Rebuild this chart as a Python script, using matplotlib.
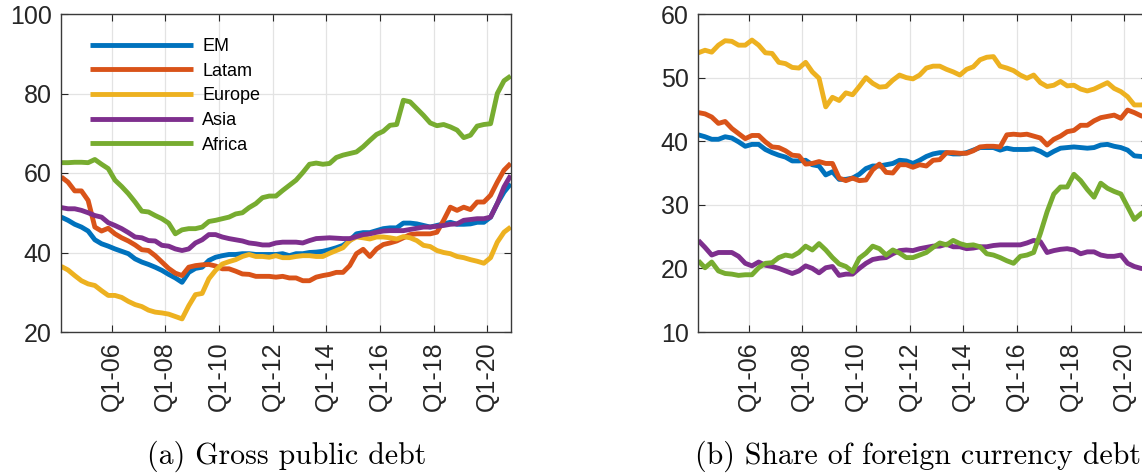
import numpy as np
import matplotlib
matplotlib.use("Agg")
import matplotlib.pyplot as plt

# quarterly observations, 2004Q2 .. 2021Q1 (68 points)
n_obs = 68
quarters = 2004.125 + 0.25 * np.arange(n_obs)

tick_years = [2006, 2008, 2010, 2012, 2014, 2016, 2018, 2020]
tick_labels = ["Q1-06", "Q1-08", "Q1-10", "Q1-12", "Q1-14", "Q1-16", "Q1-18", "Q1-20"]

regions = ["EM", "Latam", "Europe", "Asia", "Africa"]
colors = ["#0072BD", "#D95319", "#EDB120", "#7E2F8E", "#77AC30"]

# (a) gross public debt, % of GDP
em_debt = [48.9, 48.1, 47.1, 46.4, 45.4, 43.2, 42.2, 41.6, 40.9, 40.3,
           39.7, 38.4, 37.6, 37.0, 36.3, 35.5, 34.5, 33.6, 32.5, 35.0,
           36.0, 36.3, 38.0, 38.8, 39.2, 39.5, 39.5, 39.7, 39.7, 39.5,
           39.5, 39.5, 39.5, 39.7, 39.2, 39.7, 39.7, 40.0, 40.1, 40.3,
           40.7, 41.2, 41.8, 43.0, 44.7, 45.0, 45.0, 45.5, 46.0, 46.2,
           46.2, 47.4, 47.4, 47.2, 46.8, 46.4, 46.8, 47.2, 47.6, 47.1,
           47.1, 47.2, 47.6, 47.6, 48.9, 52.3, 55.2, 57.3]
latam_debt = [59.0, 57.7, 55.5, 55.5, 53.1, 46.4, 45.4, 46.1, 44.7, 43.7,
              42.9, 41.9, 40.7, 40.5, 39.2, 37.6, 36.0, 34.8, 34.2, 36.3,
              36.7, 36.9, 37.0, 36.6, 35.9, 35.9, 35.3, 34.6, 34.5, 34.0,
              34.0, 34.0, 33.8, 34.0, 33.6, 33.6, 32.9, 32.9, 33.8, 34.2,
              34.5, 35.0, 35.0, 36.7, 39.7, 40.8, 39.0, 40.9, 42.0, 42.4,
              42.9, 43.7, 44.5, 44.7, 44.7, 44.7, 45.1, 48.1, 51.4, 50.6,
              51.4, 50.8, 52.7, 52.7, 54.4, 57.7, 60.7, 62.4]
europe_debt = [36.5, 35.6, 34.2, 32.9, 32.1, 31.7, 30.4, 29.2, 29.2, 28.7,
               27.7, 26.9, 26.4, 25.5, 25.0, 24.8, 24.5, 23.9, 23.3, 26.6,
               29.4, 29.7, 33.4, 35.5, 37.1, 37.7, 38.2, 39.0, 39.5, 39.0,
               39.0, 38.8, 39.2, 38.7, 38.7, 39.0, 39.2, 39.2, 39.0, 39.0,
               39.8, 40.5, 41.2, 43.0, 43.9, 43.7, 43.4, 43.9, 43.9, 43.7,
               43.4, 44.0, 43.7, 43.0, 41.8, 41.5, 40.5, 40.0, 39.7, 39.0,
               38.7, 38.2, 37.8, 37.3, 38.7, 42.6, 45.1, 46.4]
asia_debt = [51.3, 51.0, 51.0, 50.6, 50.0, 49.3, 48.9, 47.5, 46.8, 46.0,
             45.0, 43.9, 43.7, 43.0, 42.9, 41.8, 41.6, 40.9, 40.5, 40.9,
             42.4, 43.2, 44.5, 44.5, 43.9, 43.5, 43.2, 42.9, 42.4, 42.2,
             41.9, 41.9, 42.4, 42.6, 42.6, 42.6, 42.4, 43.0, 43.5, 43.6,
             43.7, 43.6, 43.5, 43.5, 44.0, 44.5, 44.7, 45.1, 45.4, 45.5,
             45.5, 45.5, 45.8, 46.1, 46.4, 46.4, 46.6, 46.8, 47.1, 47.2,
             48.1, 48.3, 48.5, 48.5, 48.9, 52.3, 56.5, 59.4]
africa_debt = [62.6, 62.6, 62.7, 62.7, 62.6, 63.4, 62.2, 61.1, 58.2, 56.6,
               54.8, 52.7, 50.4, 50.2, 49.3, 48.5, 47.4, 44.7, 45.7, 46.0,
               46.0, 46.4, 47.8, 48.1, 48.5, 48.9, 49.7, 50.0, 51.3, 52.3,
               53.8, 54.2, 54.2, 55.6, 56.9, 58.2, 60.1, 62.2, 62.5, 62.2,
               62.4, 63.9, 64.5, 64.9, 65.3, 66.6, 68.2, 69.7, 70.5, 72.0,
               72.2, 78.3, 77.9, 76.2, 74.5, 72.6, 71.9, 72.2, 71.6, 70.8,
               68.9, 69.5, 71.8, 72.2, 72.4, 80.0, 83.2, 84.4]

# (b) share of foreign currency debt, %
em_fx = [41.0, 40.7, 40.3, 40.3, 40.7, 40.5, 39.9, 39.2, 39.5, 39.5,
         38.7, 38.2, 37.8, 37.5, 36.9, 36.9, 37.0, 36.3, 36.1, 34.7,
         35.2, 34.0, 34.0, 34.2, 34.8, 35.7, 36.1, 36.1, 36.3, 36.5,
         37.0, 36.9, 36.5, 37.0, 37.6, 38.0, 38.2, 38.2, 38.0, 38.0,
         38.2, 38.6, 39.0, 39.0, 39.0, 38.6, 38.9, 38.7, 38.7, 38.7,
         38.8, 38.4, 37.8, 38.4, 38.9, 39.0, 39.1, 39.0, 38.9, 39.0,
         39.4, 39.5, 39.2, 39.0, 38.6, 37.7, 37.6, 37.5]
latam_fx = [44.5, 44.3, 43.8, 42.8, 43.1, 42.0, 41.2, 40.4, 40.9, 40.9,
            39.9, 39.1, 39.0, 38.5, 37.8, 37.7, 36.4, 36.5, 36.8, 36.5,
            36.5, 34.2, 33.8, 34.2, 33.8, 33.9, 35.5, 36.4, 35.1, 35.0,
            36.3, 36.3, 35.9, 36.3, 36.1, 37.0, 37.1, 38.2, 38.2, 38.1,
            38.1, 38.5, 39.1, 39.2, 39.2, 39.1, 41.0, 41.1, 41.0, 41.1,
            40.8, 40.5, 39.4, 40.3, 40.8, 41.5, 41.7, 42.5, 42.5, 43.2,
            43.7, 43.9, 44.1, 43.6, 44.9, 44.5, 44.0, 43.7]
europe_fx = [53.9, 54.3, 54.0, 55.1, 55.8, 55.7, 55.1, 55.1, 55.9, 55.1,
             53.9, 53.8, 52.4, 52.2, 51.6, 51.5, 52.4, 50.9, 49.9, 45.4,
             46.9, 46.4, 47.6, 47.3, 48.6, 50.0, 49.1, 48.5, 48.6, 49.6,
             50.4, 50.0, 49.8, 50.4, 51.5, 51.8, 51.8, 51.3, 50.9, 50.4,
             51.3, 51.7, 52.8, 53.2, 53.3, 51.8, 51.5, 51.1, 50.4, 49.9,
             50.4, 49.2, 48.6, 48.8, 49.4, 48.7, 48.8, 48.2, 47.9, 48.2,
             48.7, 49.2, 48.3, 47.8, 47.0, 45.7, 45.7, 45.8]
asia_fx = [24.4, 23.3, 22.1, 22.5, 22.5, 22.5, 21.9, 20.8, 20.4, 21.0,
           20.5, 20.3, 20.0, 19.6, 19.2, 19.6, 20.4, 20.0, 19.3, 20.1,
           20.3, 18.9, 19.1, 19.1, 20.0, 20.8, 21.4, 21.6, 21.7, 22.3,
           22.8, 22.9, 22.8, 23.1, 23.3, 23.5, 23.5, 23.8, 23.4, 23.4,
           23.1, 23.2, 23.4, 23.4, 23.6, 23.7, 23.7, 23.7, 23.7, 24.0,
           24.4, 24.2, 22.5, 22.8, 23.0, 23.1, 22.9, 22.3, 22.6, 22.6,
           22.1, 21.9, 21.9, 22.1, 20.8, 20.3, 20.0, 19.9]
africa_fx = [21.2, 20.1, 21.0, 19.6, 19.2, 19.1, 18.9, 19.0, 19.0, 20.1,
             20.8, 20.9, 21.7, 22.1, 21.9, 22.5, 23.5, 22.9, 23.9, 22.9,
             21.7, 20.7, 20.3, 19.5, 21.6, 22.4, 23.5, 23.1, 22.1, 22.9,
             22.4, 21.7, 21.7, 22.1, 22.5, 23.3, 24.0, 23.7, 24.4, 23.9,
             23.6, 23.7, 23.4, 22.3, 22.1, 21.7, 21.2, 20.8, 21.9, 22.1,
             22.5, 25.5, 28.9, 31.7, 32.8, 32.8, 34.8, 33.8, 32.4, 31.2,
             33.4, 32.6, 32.1, 31.7, 29.7, 27.7, 28.6, 29.2]

debt_series = [em_debt, latam_debt, europe_debt, asia_debt, africa_debt]
fx_series = [em_fx, latam_fx, europe_fx, asia_fx, africa_fx]

W, H = 1142, 475
fig = plt.figure(figsize=(W / 100, H / 100), dpi=100)
fig.patch.set_facecolor("white")

tick_font = "Liberation Sans"
axis_col = "#262626"

def px_axes(x0, y0, x1, y1):
    # pixel box -> figure fraction
    return [x0 / W, 1 - y1 / H, (x1 - x0) / W, (y1 - y0) / H]

def style_axes(ax, ylim, yticks):
    ax.set_xlim(quarters[0], quarters[-1])
    ax.set_ylim(*ylim)
    ax.set_yticks(yticks)
    ax.set_xticks(tick_years)
    ax.set_xticklabels(tick_labels, rotation=90)
    ax.grid(True, color="#e3e3e3", linewidth=0.9)
    ax.set_axisbelow(True)
    ax.tick_params(direction="in", top=True, right=True, length=5, width=0.8,
                   colors=axis_col, labelsize=18, pad=7)
    for lab in ax.get_xticklabels() + ax.get_yticklabels():
        lab.set_fontfamily(tick_font)
    for sp in ax.spines.values():
        sp.set_edgecolor("#3a3a3a")
        sp.set_linewidth(1.0)

ax1 = fig.add_axes(px_axes(61.3, 14, 510.7, 332))
for vals, name, c in zip(debt_series, regions, colors):
    ax1.plot(quarters, vals, color=c, linewidth=3.5, label=name,
             solid_joinstyle="round", solid_capstyle="butt")
style_axes(ax1, (20, 100), [20, 40, 60, 80, 100])

leg = ax1.legend(loc="upper left", bbox_to_anchor=(0.064, 0.924), frameon=False,
                 handlelength=5.7, handletextpad=0.5, labelspacing=0.42,
                 borderpad=0, borderaxespad=0,
                 prop={"family": tick_font, "size": 13})
for t in leg.get_texts():
    t.set_color("black")

# second panel runs past the right edge of the figure, as in the original
ax2 = fig.add_axes(px_axes(698.3, 14, 1147.7, 332))
for vals, name, c in zip(fx_series, regions, colors):
    ax2.plot(quarters, vals, color=c, linewidth=3.5, label=name,
             solid_joinstyle="round", solid_capstyle="butt")
style_axes(ax2, (10, 60), [10, 20, 30, 40, 50, 60])

# captions
cap_kw = dict(fontfamily="cmr10", fontsize=21.5, ha="center", va="center", color="black")
fig.text(287 / W, 1 - 456 / H, "(a) Gross public debt", **cap_kw)
fig.text(918 / W, 1 - 456 / H, "(b) Share of foreign currency debt", **cap_kw)

fig.savefig("out.png", dpi=100)
plt.close(fig)
